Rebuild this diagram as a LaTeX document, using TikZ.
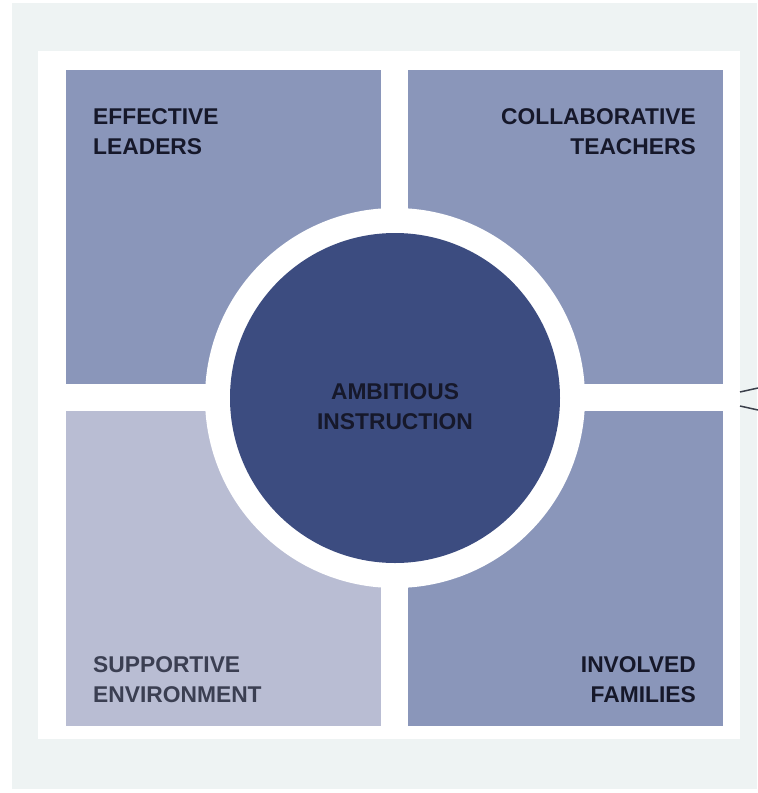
\documentclass[tikz,border=0pt]{standalone}
\usepackage{fontspec}
\setmainfont{Liberation Sans}
\definecolor{panelgray}{HTML}{EEF3F3}
\definecolor{quadblue}{HTML}{8A96BA}
\definecolor{quadpale}{HTML}{B9BDD3}
\definecolor{coreblue}{HTML}{3C4C80}
\definecolor{inkdark}{HTML}{16182A}
\definecolor{inkgray}{HTML}{3B3F52}
\definecolor{wiregray}{HTML}{3A3F4A}
\tikzset{
  quad/.style={fill=quadblue, draw=none},
  label/.style={font=\bfseries\fontsize{22.8}{30}\selectfont, text=inkdark, inner sep=0pt},
}
\begin{document}
\begin{tikzpicture}[x=1pt,y=-1pt]
      \useasboundingbox (0,0) rectangle (758,793);
      \fill[panelgray] (12,3) rectangle (757,789);
      \fill[white] (38,51) rectangle (740,739);
      % four quadrants
      \fill[quad] (66,70) rectangle (381,384) coordinate (tlq);
      \fill[quad] (408,70) rectangle (723,384) coordinate (trq);
      \fill[quad, fill=quadpale] (66,411) rectangle (381,726) coordinate (blq);
      \fill[quad] (408,411) rectangle (723,726) coordinate (brq);
      % centre
      \node[circle, fill=white, minimum size=380pt, inner sep=0pt] (ring) at (395,398) {};
      \node[circle, fill=coreblue, minimum size=330pt, inner sep=0pt] (core) at (ring.center) {};
      \draw
        (93,108) node[label, anchor=north west, align=left] (leaders){EFFECTIVE\\LEADERS}
        (696,108) node[label, anchor=north east, align=right] (teachers){COLLABORATIVE\\TEACHERS}
        (93,656) node[label, anchor=north west, align=left, text=inkgray] (environment){SUPPORTIVE\\ENVIRONMENT}
        (696,656) node[label, anchor=north east, align=right] (families){INVOLVED\\FAMILIES}
        (395,383) node[label, anchor=north, align=center] (instruction){AMBITIOUS\\INSTRUCTION};
      % wires leaving on the right
      \coordinate (wa) at (740,392);
      \coordinate (wb) at (740,406);
      \coordinate (wc) at (758,388);
      \coordinate (wd) at (758,410);
      \begin{scope}[wiregray, line width=1.5pt]
        \draw (wa) to (wc);
        \draw (wb) to (wd);
      \end{scope}
    \end{tikzpicture}
\end{document}
